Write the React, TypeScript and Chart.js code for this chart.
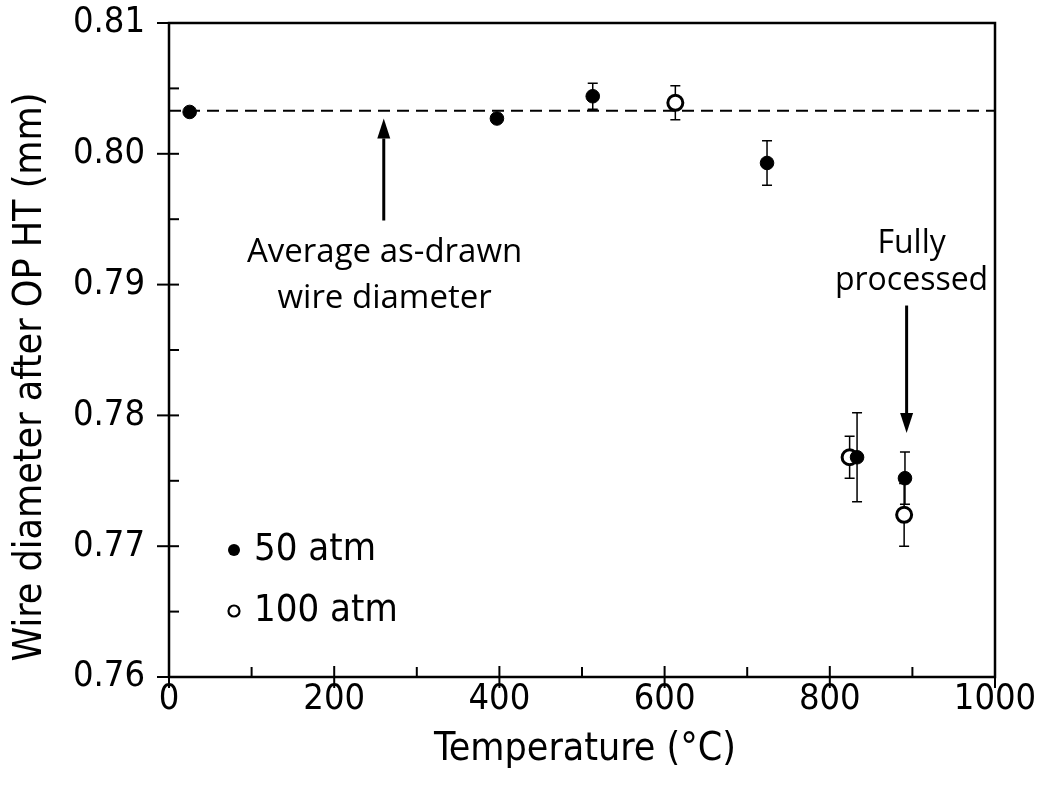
import React, { useEffect, useRef } from "react";
import { Chart, registerables } from "chart.js";

Chart.register(...registerables);

// ---- data ----
const temps50 = [25, 397, 513, 724, 833, 891];
const diam50 = [0.8032, 0.8027, 0.8044, 0.7993, 0.7768, 0.7752];
const err50 = [0, 0, 0.001, 0.0017, 0.0034, 0.002];

const temps100 = [613, 824, 890];
const diam100 = [0.8039, 0.7768, 0.7724];
const err100 = [0.0013, 0.0016, 0.0024];

const avgDiameter = 0.8033;
const avgLineX = [0, 1000];

const legendLabels = ["50 atm", "100 atm"];
const xTitle = "Temperature (°C)";
const yTitle = "Wire diameter after OP HT (mm)";

// annotations in data coordinates
const arrowUp = { x: 260, from: 0.7949, to: 0.8027 };
const arrowDown = { x: 893, from: 0.7884, to: 0.77865 };
const noteAvgLines = ["Average as-drawn", "wire diameter"];
const noteAvgPos = { x: 261, y: [0.79242, 0.78894] };
const noteFullLines = ["Fully", "processed"];
const noteFullPos = { x: 899, y: [0.7931, 0.79025] };

const TAHOMA = "'DejaVu Sans Condensed', 'DejaVu Sans', sans-serif";
const CALIBRI = "'Open Sans', Lato, sans-serif";

export default function App() {
  const ref = useRef<HTMLCanvasElement | null>(null);

  useEffect(() => {
    document.body.style.margin = "0";
    const canvas = ref.current;
    if (!canvas) return;

    const decor = {
      id: "decor",
      beforeDatasetsDraw(chart: any) {
        const { ctx, scales } = chart;
        const xs = scales.x;
        const ys = scales.y;
        ctx.save();
        ctx.strokeStyle = "#000";
        ctx.lineWidth = 1.5;
        const drawErr = (tx: number[], vy: number[], ey: number[]) => {
          tx.forEach((t, i) => {
            if (!ey[i]) return;
            const px = xs.getPixelForValue(t);
            const top = ys.getPixelForValue(vy[i] + ey[i]);
            const bot = ys.getPixelForValue(vy[i] - ey[i]);
            ctx.beginPath();
            ctx.moveTo(px, top);
            ctx.lineTo(px, bot);
            ctx.moveTo(px - 5, top);
            ctx.lineTo(px + 5, top);
            ctx.moveTo(px - 5, bot);
            ctx.lineTo(px + 5, bot);
            ctx.stroke();
          });
        };
        drawErr(temps50, diam50, err50);
        drawErr(temps100, diam100, err100);
        ctx.restore();
      },
      afterDatasetsDraw(chart: any) {
        const { ctx, chartArea: a, scales } = chart;
        const xs = scales.x;
        const ys = scales.y;
        ctx.save();
        ctx.strokeStyle = "#000";
        ctx.fillStyle = "#000";
        // box
        ctx.lineWidth = 2.5;
        ctx.strokeRect(a.left, a.top, a.right - a.left, a.bottom - a.top);
        // y ticks
        ctx.lineWidth = 2;
        for (let v = 0; v <= 10; v++) {
          const val = 0.76 + v * 0.005;
          const py = ys.getPixelForValue(val);
          ctx.beginPath();
          if (v % 2 === 0) {
            ctx.moveTo(a.left - 12, py);
            ctx.lineTo(a.left + 10, py);
          } else {
            ctx.moveTo(a.left, py);
            ctx.lineTo(a.left + 10, py);
          }
          ctx.stroke();
        }
        // x ticks
        for (let t = 0; t <= 1000; t += 100) {
          const px = xs.getPixelForValue(t);
          ctx.beginPath();
          if (t % 200 === 0) {
            ctx.moveTo(px, a.bottom + 11);
            ctx.lineTo(px, a.bottom - 11);
          } else {
            ctx.moveTo(px, a.bottom);
            ctx.lineTo(px, a.bottom - 10);
          }
          ctx.stroke();
        }
        // arrows
        const arrow = (x: number, from: number, to: number) => {
          const px = xs.getPixelForValue(x);
          const p0 = ys.getPixelForValue(from);
          const p1 = ys.getPixelForValue(to);
          const dir = p1 < p0 ? -1 : 1;
          const headLen = 20;
          ctx.lineWidth = 3;
          ctx.beginPath();
          ctx.moveTo(px, p0);
          ctx.lineTo(px, p1 - dir * headLen);
          ctx.stroke();
          ctx.beginPath();
          ctx.moveTo(px, p1);
          ctx.lineTo(px - 6.5, p1 - dir * headLen);
          ctx.lineTo(px + 6.5, p1 - dir * headLen);
          ctx.closePath();
          ctx.fill();
        };
        arrow(arrowUp.x, arrowUp.from, arrowUp.to);
        arrow(arrowDown.x, arrowDown.from, arrowDown.to);
        // notes
        ctx.font = `33px ${CALIBRI}`;
        ctx.textAlign = "center";
        ctx.textBaseline = "middle";
        noteAvgLines.forEach((s, i) =>
          ctx.fillText(s, xs.getPixelForValue(noteAvgPos.x), ys.getPixelForValue(noteAvgPos.y[i]))
        );
        ctx.font = `32px ${CALIBRI}`;
        noteFullLines.forEach((s, i) =>
          ctx.fillText(s, xs.getPixelForValue(noteFullPos.x), ys.getPixelForValue(noteFullPos.y[i]))
        );
        // legend
        ctx.font = `38px ${TAHOMA}`;
        ctx.textAlign = "left";
        const lx = a.left + 65;
        const ly = [a.top + 527, a.top + 588];
        ctx.beginPath();
        ctx.arc(lx, ly[0], 6, 0, Math.PI * 2);
        ctx.fill();
        ctx.beginPath();
        ctx.lineWidth = 2.2;
        ctx.fillStyle = "#fff";
        ctx.arc(lx, ly[1], 5.5, 0, Math.PI * 2);
        ctx.fill();
        ctx.stroke();
        ctx.fillStyle = "#000";
        legendLabels.forEach((s, i) => ctx.fillText(s, lx + 20, ly[i]));
        // axis titles
        ctx.font = `39px ${TAHOMA}`;
        ctx.textAlign = "center";
        ctx.fillText(xTitle, (a.left + a.right) / 2 + 3, 750);
        ctx.save();
        ctx.translate(31, 377);
        ctx.rotate(-Math.PI / 2);
        ctx.fillText(yTitle, 0, 0);
        ctx.restore();
        ctx.restore();
      },
    };

    const chart = new Chart(canvas, {
      type: "scatter",
      data: {
        datasets: [
          {
            type: "line",
            label: "avg",
            data: avgLineX.map((x) => ({ x, y: avgDiameter })),
            borderColor: "#000",
            borderWidth: 2,
            borderDash: [12, 7],
            pointRadius: 0,
            fill: false,
          } as any,
          {
            label: legendLabels[0],
            data: temps50.map((x, i) => ({ x, y: diam50[i] })),
            pointRadius: 6.8,
            pointBackgroundColor: "#000",
            pointBorderColor: "#000",
            pointBorderWidth: 1,
          },
          {
            label: legendLabels[1],
            data: temps100.map((x, i) => ({ x, y: diam100[i] })),
            pointRadius: 7.5,
            pointBackgroundColor: "#fff",
            pointBorderColor: "#000",
            pointBorderWidth: 3,
          },
        ],
      },
      options: {
        responsive: false,
        animation: false,
        layout: { padding: { top: 23, right: 55, left: 0, bottom: 0 } },
        plugins: { legend: { display: false }, tooltip: { enabled: false } },
        scales: {
          x: {
            type: "linear",
            min: 0,
            max: 1000,
            grid: { display: false, drawTicks: false },
            border: { display: false },
            ticks: {
              stepSize: 200,
              color: "#000",
              padding: 1,
              font: { family: TAHOMA, size: 36 },
              callback: (v: any) => String(Math.round(Number(v))),
            },
            afterFit: (s: any) => {
              s.height = 133;
              s.paddingLeft = 0;
              s.paddingRight = 0;
            },
          },
          y: {
            type: "linear",
            min: 0.76,
            max: 0.81,
            grid: { display: false, drawTicks: false },
            border: { display: false },
            ticks: {
              stepSize: 0.01,
              color: "#000",
              padding: 24,
              font: { family: TAHOMA, size: 36 },
              callback: (v: any) => Number(v).toFixed(2),
            },
            afterFit: (s: any) => {
              s.width = 169;
              s.paddingTop = 0;
              s.paddingBottom = 0;
            },
          },
        },
      },
      plugins: [decor],
    });
    return () => chart.destroy();
  }, []);

  return <canvas ref={ref} width={1050} height={810} style={{ display: "block" }} />;
}
